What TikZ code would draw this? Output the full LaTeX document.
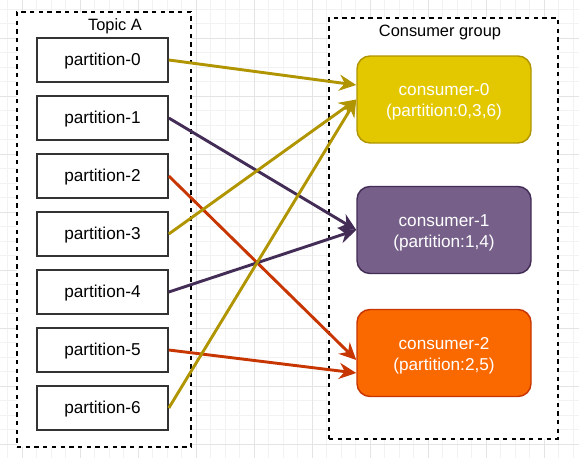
\documentclass[tikz,border=0pt]{standalone}
\usepackage{fontspec}
\setmainfont{Liberation Sans}
\usetikzlibrary{arrows.meta}
\definecolor{yfill}{HTML}{E3C800}
\definecolor{yline}{HTML}{B09500}
\definecolor{pfill}{HTML}{76608A}
\definecolor{pline}{HTML}{432D57}
\definecolor{ofill}{HTML}{FA6800}
\definecolor{oline}{HTML}{C73500}
\definecolor{boxline}{HTML}{333333}
\definecolor{minorg}{HTML}{F2F2F2}
\definecolor{majorg}{HTML}{E4E4E4}
\begin{document}
\begin{tikzpicture}[x=1pt,y=-1pt,
  minorgrid/.style={draw=minorg,line width=1pt},
  majorgrid/.style={draw=majorg,line width=1pt},
  container/.style={draw=black,fill=white,line width=1.45pt,dash pattern=on 4.35pt off 4.35pt,inner sep=0pt},
  title/.style={font=\fontsize{16.4}{20}\selectfont,inner sep=0pt},
  partbox/.style={draw=boxline,fill=white,line width=1.6pt,minimum width=131pt,minimum height=44pt,inner sep=0pt,text height=15.6pt,text depth=3.65pt,font=\fontsize{17.2}{21}\selectfont},
  consbox/.style={rounded corners=13pt,line width=1.45pt,minimum width=174pt,minimum height=87pt,inner sep=0pt,align=center,text=white,font=\fontsize{17.2}{21}\selectfont},
  flow/.style={line width=2.9pt,-{Stealth[length=17pt,width=16pt,inset=5.5pt]}},
]
\useasboundingbox (0,0) rectangle (579,458);
\fill[white] (0,0) rectangle (579,458);
% grid
\foreach \i in {0,...,39} \draw[minorgrid] ({7.5+14.5*\i},0) -- ++(0,458);
\foreach \i in {0,...,31} \draw[minorgrid] (0,{9+14.5*\i}) -- ++(579,0);
\foreach \i in {0,...,9} \draw[majorgrid] ({22+58*\i},0) -- ++(0,458);
\foreach \i in {0,...,7} \draw[majorgrid] (0,{38+58*\i}) -- ++(579,0);
% containers
\node[container,minimum width=174pt,minimum height=435pt] (topic) at (104,229.5) {};
\node[container,minimum width=229pt,minimum height=421pt] (group) at (443.5,228.5) {};
\node[title] (topicA) at (115,26) {Topic A};
\node[title] (cgroup) at (440,32) {Consumer group};
% partitions
\foreach \k in {0,...,6} \node[partbox] (p\k) at (102.5,{60+58*\k}) {partition-\k};
% consumers
\node[consbox,fill=yfill,draw=yline] (c0) at (444,99.5) {\rule{0pt}{17.3pt}consumer-0\\(partition:0,3,6)};
\node[consbox,fill=pfill,draw=pline] (c1) at (444,230) {\rule{0pt}{17.3pt}consumer-1\\(partition:1,4)};
\node[consbox,fill=ofill,draw=oline] (c2) at (444,353) {\rule{0pt}{17.3pt}consumer-2\\(partition:2,5)};
% connectors
\draw[flow,yline] (p0.east) -- ([yshift=14.5pt]c0.west);
\draw[flow,pline] (p1.east) -- (c1.west);
\draw[flow,oline] (p2.east) -- ([yshift=-7pt]c2.west);
\draw[flow,yline] (p3.east) -- (c0.west);
\draw[flow,pline] (p4.east) -- (c1.west);
\draw[flow,oline] (p5.east) -- ([yshift=-20pt]c2.west);
\draw[flow,yline] (p6.east) -- (c0.west);
\end{tikzpicture}
\end{document}
